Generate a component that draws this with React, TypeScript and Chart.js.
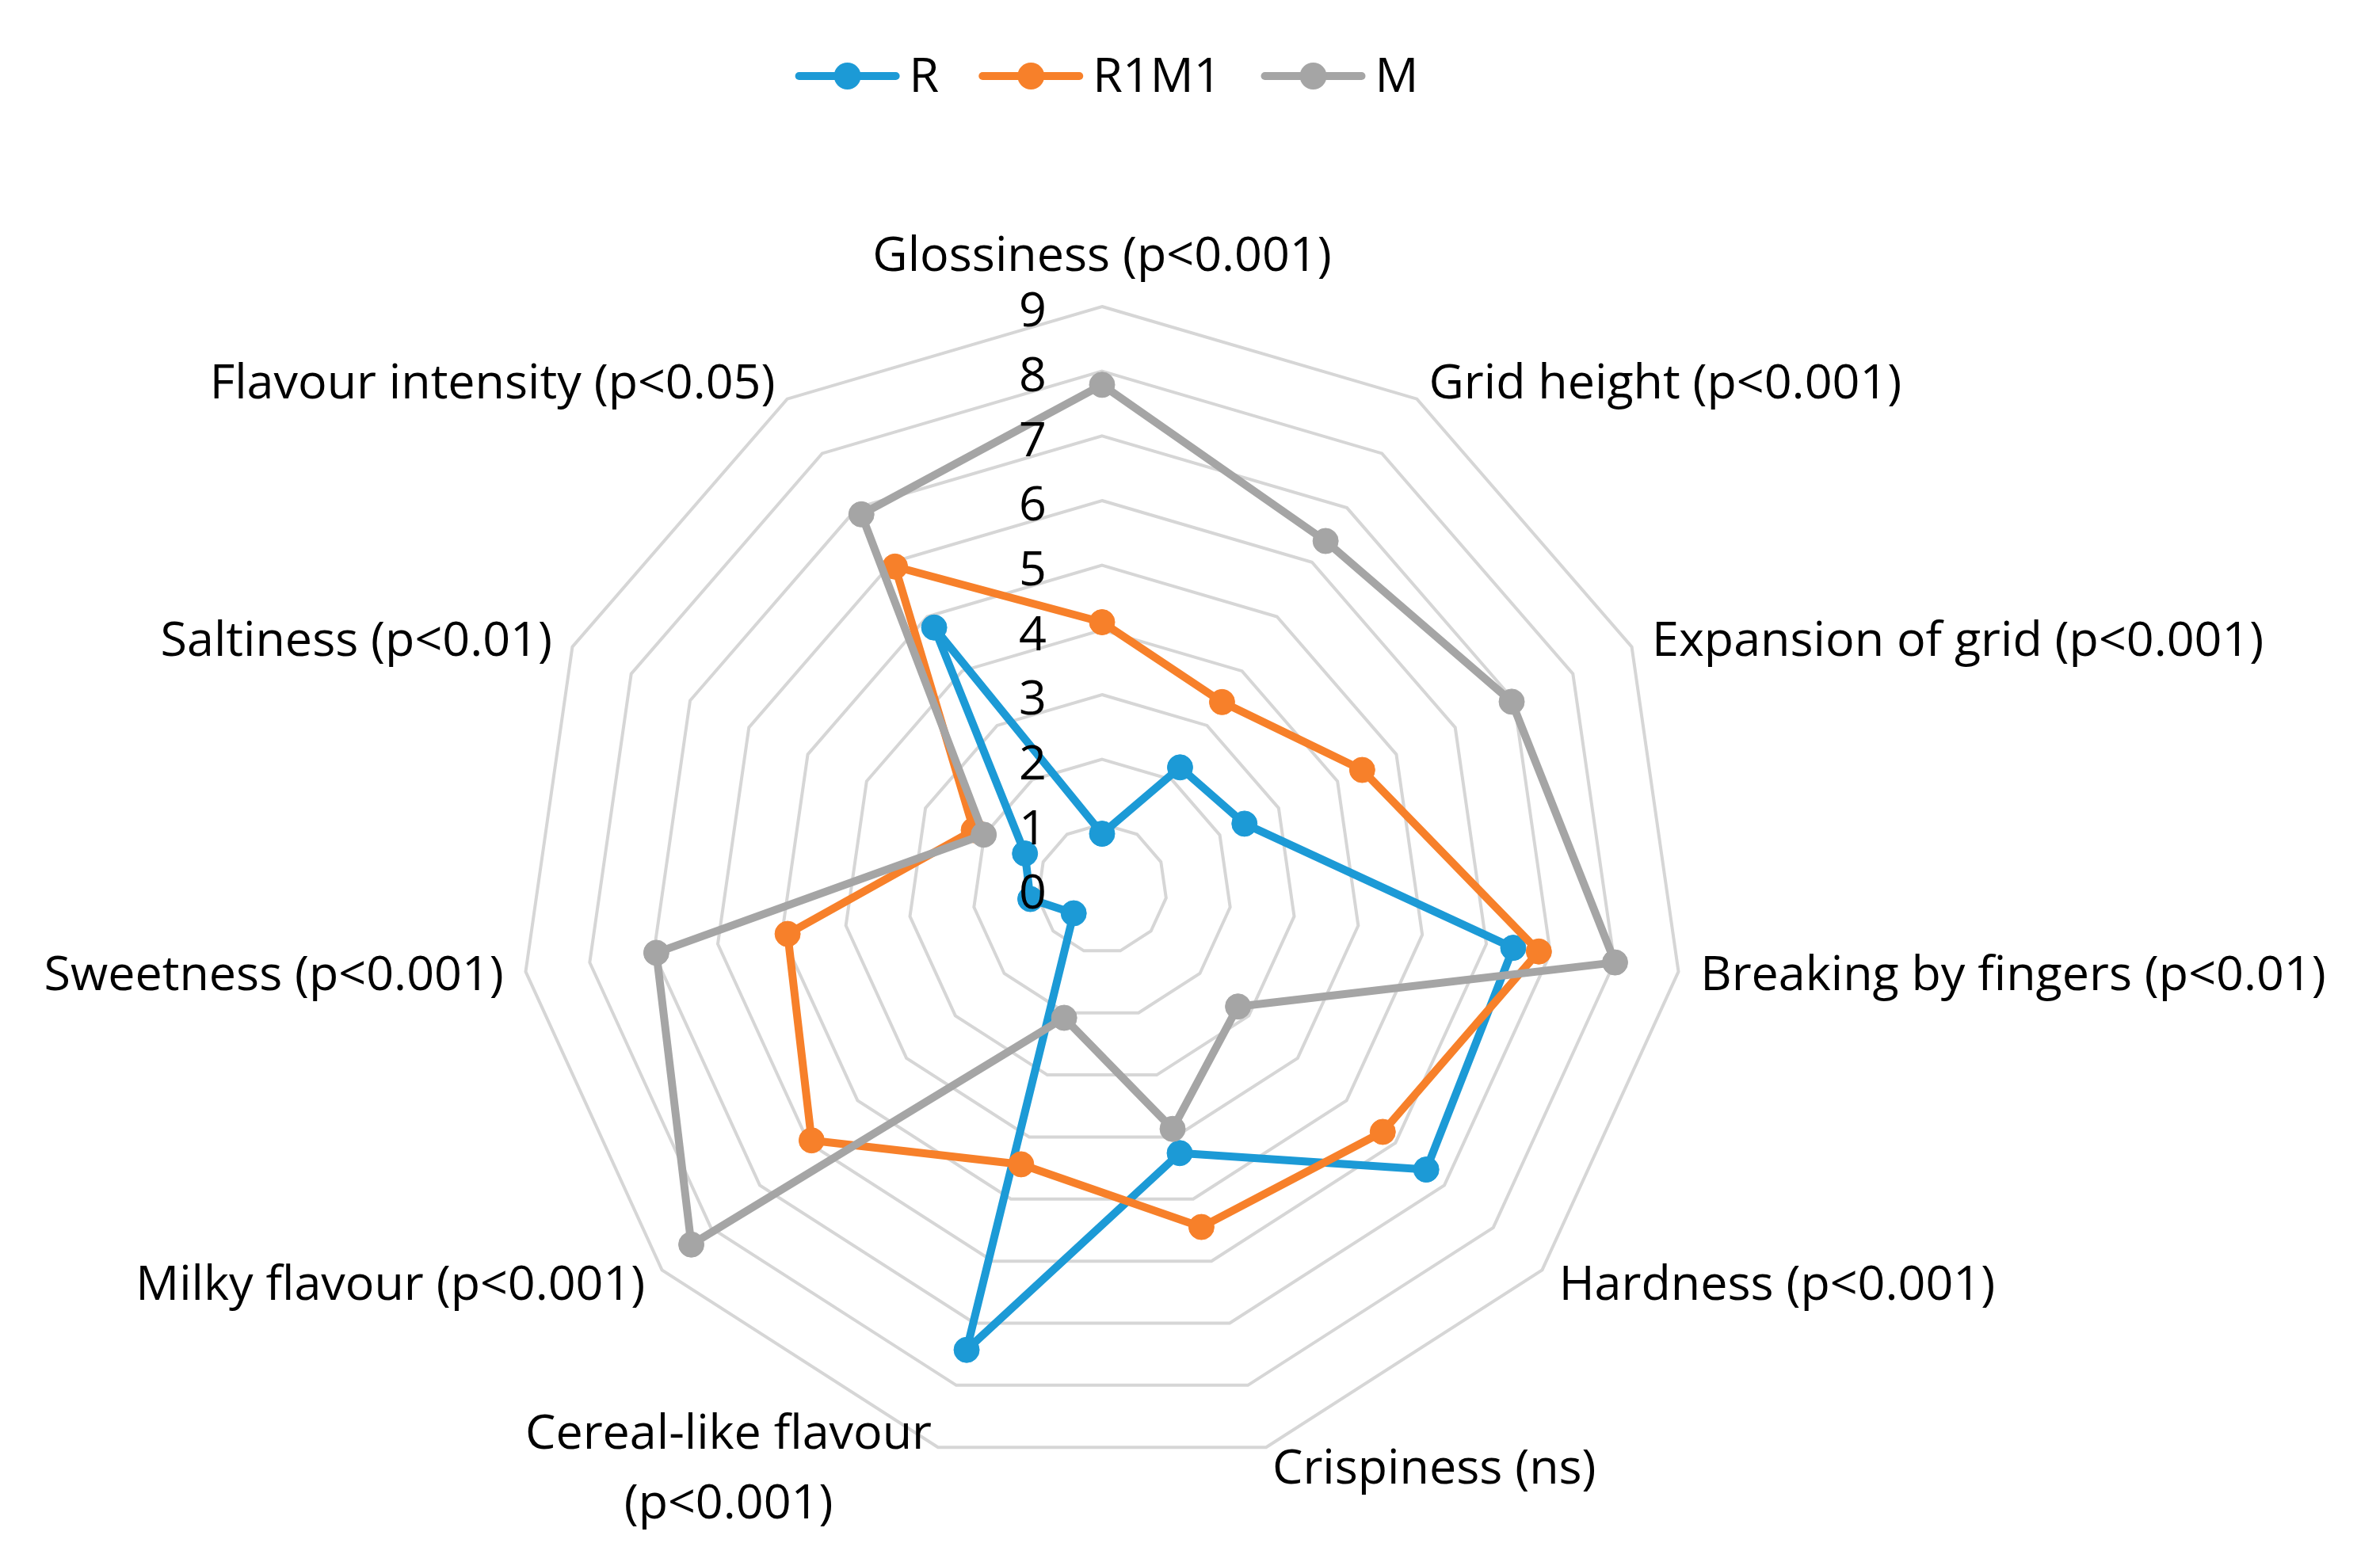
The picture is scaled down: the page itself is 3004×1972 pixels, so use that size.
import React, { useEffect, useRef } from 'react';
import { Chart, registerables } from 'chart.js';

Chart.register(...registerables);

const categories: (string | string[])[] = [
  'Glossiness (p<0.001)',
  'Grid height (p<0.001)',
  'Expansion of grid (p<0.001)',
  'Breaking by fingers (p<0.01)',
  'Hardness (p<0.001)',
  'Crispiness (ns)',
  ['Cereal-like flavour', '(p<0.001)'],
  'Milky flavour (p<0.001)',
  'Sweetness (p<0.001)',
  'Saltiness (p<0.01)',
  'Flavour intensity (p<0.05)',
];

const seriesNames = ['R', 'R1M1', 'M'];
const valuesR = [0.85, 2.23, 2.42, 6.42, 6.63, 4.26, 7.43, 0.58, 1.12, 1.31, 4.8];
const valuesR1M1 = [4.12, 3.43, 4.42, 6.82, 5.74, 5.45, 4.44, 5.94, 4.91, 2.18, 5.92];
const valuesM = [7.79, 6.39, 6.96, 8.01, 2.78, 3.87, 2.08, 8.4, 6.96, 2.01, 6.88];
const seriesColors = ['#1C9AD6', '#F7802A', '#A5A5A5'];

const scaleMin = 0;
const scaleMax = 9;
const scaleStep = 1;

const FONT = '"Open Sans", sans-serif';
const FONT_SIZE = 61;

const W = 3004;
const H = 1972;

const excelLabels = {
  id: 'excelLabels',
  afterDatasetsDraw(chart: any) {
    const scale = chart.scales.r;
    const ctx = chart.ctx as CanvasRenderingContext2D;
    ctx.save();
    ctx.font = `${FONT_SIZE}px ${FONT}`;
    ctx.fillStyle = '#000000';
    ctx.textBaseline = 'middle';

    // value (tick) labels, left of the vertical axis
    ctx.textAlign = 'right';
    scale.ticks.forEach((t: any) => {
      const d = scale.getDistanceFromCenterForValue(t.value);
      ctx.fillText(String(t.value), scale.xCenter - 70, scale.yCenter - d + 8);
    });

    // category labels
    const labels = chart.data.labels as (string | string[])[];
    labels.forEach((lab, i) => {
      const top = i === 0;
      const p = scale.getPointPosition(i, scale.drawingArea + (top ? 68 : 28));
      const cos = Math.cos(p.angle);
      const sin = Math.sin(p.angle);
      const align = Math.abs(cos) < 0.02 ? 'center' : cos > 0 ? 'left' : 'right';
      const lines = Array.isArray(lab) ? lab : [lab];
      const lh = 88;
      const maxW = Math.max(...lines.map((l) => ctx.measureText(l).width));
      const y0 = p.y + (sin < 0 ? 6 : 2) - ((lines.length - 1) * lh) / 2;
      ctx.textAlign = 'center';
      lines.forEach((line, k) => {
        let cx = p.x;
        if (align === 'left') cx = p.x + maxW / 2;
        else if (align === 'right') cx = p.x - maxW / 2;
        ctx.fillText(line, cx, y0 + k * lh);
      });
    });
    ctx.restore();
  },
  afterDraw(chart: any) {
    const scale = chart.scales.r;
    const ctx = chart.ctx as CanvasRenderingContext2D;
    ctx.save();
    ctx.font = `${FONT_SIZE}px ${FONT}`;
    ctx.textBaseline = 'middle';
    ctx.textAlign = 'left';
    const lineLen = 132;
    const gapLT = 12;
    const gapItems = 50;
    const items = chart.data.datasets.map((ds: any) => ({ text: ds.label, color: ds.borderColor }));
    const widths = items.map((it: any) => lineLen + gapLT + ctx.measureText(it.text).width);
    const total = widths.reduce((a: number, b: number) => a + b, 0) + gapItems * (items.length - 1);
    let x = scale.xCenter + 6 - total / 2;
    const y = 96;
    items.forEach((it: any, i: number) => {
      ctx.strokeStyle = it.color;
      ctx.lineWidth = 10;
      ctx.lineCap = 'round';
      ctx.beginPath();
      ctx.moveTo(x + 5, y);
      ctx.lineTo(x + lineLen - 5, y);
      ctx.stroke();
      ctx.fillStyle = it.color;
      ctx.beginPath();
      ctx.arc(x + lineLen / 2, y, 17, 0, Math.PI * 2);
      ctx.fill();
      ctx.fillStyle = '#000000';
      ctx.fillText(it.text, x + lineLen + gapLT, y + 3);
      x += widths[i] + gapItems;
    });
    ctx.restore();
  },
};

export default function App() {
  const canvasRef = useRef<HTMLCanvasElement | null>(null);

  useEffect(() => {
    const canvas = canvasRef.current;
    if (!canvas) return;
    const seriesValues = [valuesR, valuesR1M1, valuesM];
    const chart = new Chart(canvas, {
      type: 'radar',
      data: {
        labels: categories as any,
        datasets: seriesNames.map((name, i) => ({
          label: name,
          data: seriesValues[i],
          borderColor: seriesColors[i],
          backgroundColor: seriesColors[i],
          pointBackgroundColor: seriesColors[i],
          pointBorderColor: seriesColors[i],
          pointBorderWidth: 1,
          pointRadius: 16,
          borderWidth: 10,
          borderJoinStyle: 'round' as const,
          fill: false,
          order: seriesNames.length - i,
        })),
      },
      options: {
        responsive: false,
        animation: false,
        events: [],
        layout: { padding: { left: 656, right: 878, top: 387, bottom: 115 } },
        plugins: {
          legend: { display: false },
          tooltip: { enabled: false },
        },
        scales: {
          r: {
            min: scaleMin,
            max: scaleMax,
            ticks: { stepSize: scaleStep, display: false },
            grid: { color: '#D6D6D6', lineWidth: 4, circular: false },
            angleLines: { display: false },
            pointLabels: { display: false },
          },
        },
      },
      plugins: [excelLabels],
    });
    return () => chart.destroy();
  }, []);

  return (
    <div style={{ position: 'absolute', left: 0, top: 0, width: W, height: H, background: '#ffffff' }}>
      <canvas ref={canvasRef} width={W} height={H} style={{ display: 'block', width: W, height: H }} />
    </div>
  );
}
